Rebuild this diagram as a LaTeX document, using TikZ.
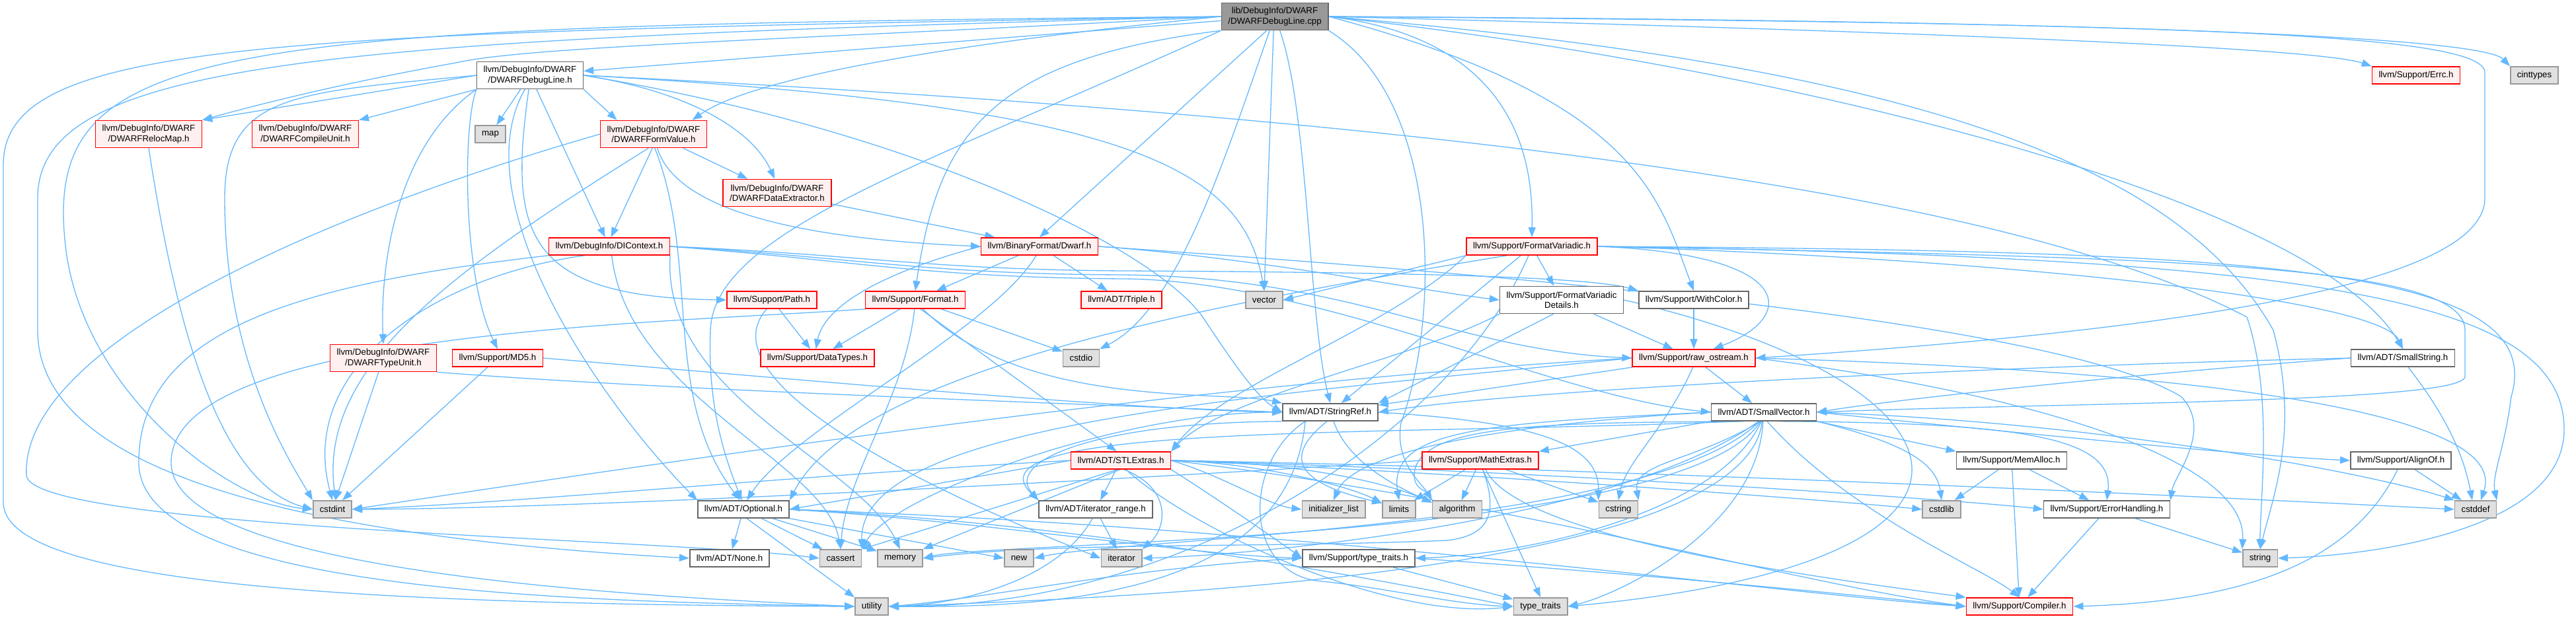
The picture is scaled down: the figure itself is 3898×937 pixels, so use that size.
\documentclass[tikz,border=0pt]{standalone}
\usepackage{fontspec}
\setmainfont{Liberation Sans}
\usetikzlibrary{arrows.meta,backgrounds}

\definecolor{depblue}{HTML}{63B8FF}
\definecolor{redfill}{HTML}{FFF0F0}
\definecolor{sysfill}{HTML}{E0E0E0}
\definecolor{sysgray}{HTML}{999999}
\definecolor{hdrgray}{HTML}{666666}

\begin{document}
\begin{tikzpicture}[>={Triangle[length=15pt,width=11pt]}, x=1pt, y=1pt,
    hdr/.style={draw=hdrgray, fill=white, line width=1.6pt, inner xsep=10pt, inner ysep=2pt,
        minimum height=26pt, align=center, font=\fontsize{13.3}{15.5}\selectfont},
    redhdr/.style={hdr, draw=red, fill=redfill},
    syshdr/.style={hdr, draw=sysgray, fill=sysfill},
    rootfile/.style={hdr, fill=sysgray},
    tall/.style={minimum height=41pt},
    dep/.style={->, draw=depblue, line width=1.3pt}]

    \useasboundingbox (0,0) rectangle (3898,-937);

    % Berkas dan header
    \node[rootfile, tall] (root) at (1929,-25) {lib/DebugInfo/DWARF\\/DWARFDebugLine.cpp};
    \node[hdr, tall] (dline) at (802,-114) {llvm/DebugInfo/DWARF\\/DWARFDebugLine.h};
    \node[redhdr] (errc) at (3656,-114) {llvm/Support/Errc.h};
    \node[syshdr] (cinttypes) at (3835,-114) {cinttypes};
    \node[redhdr, tall] (relocmap) at (225,-203) {llvm/DebugInfo/DWARF\\/DWARFRelocMap.h};
    \node[redhdr, tall] (compileunit) at (462,-203) {llvm/DebugInfo/DWARF\\/DWARFCompileUnit.h};
    \node[syshdr] (map) at (742,-203) {map};
    \node[redhdr, tall] (formvalue) at (989,-203) {llvm/DebugInfo/DWARF\\/DWARFFormValue.h};
    \node[redhdr, tall] (dataextr) at (1176,-292) {llvm/DebugInfo/DWARF\\/DWARFDataExtractor.h};
    \node[redhdr] (dicontext) at (922,-373) {llvm/DebugInfo/DIContext.h};
    \node[redhdr] (dwarf) at (1573,-373) {llvm/BinaryFormat/Dwarf.h};
    \node[redhdr] (fmtvar) at (2318,-373) {llvm/Support/FormatVariadic.h};
    \node[redhdr] (path) at (1168,-454) {llvm/Support/Path.h};
    \node[redhdr] (format) at (1385,-454) {llvm/Support/Format.h};
    \node[redhdr] (triple) at (1697,-454) {llvm/ADT/Triple.h};
    \node[syshdr] (vector) at (1913,-454) {vector};
    \node[hdr, tall] (fmtvardet) at (2363,-454) {llvm/Support/FormatVariadic\\Details.h};
    \node[hdr] (withcolor) at (2563,-454) {llvm/Support/WithColor.h};
    \node[redhdr, tall] (typeunit) at (580,-542) {llvm/DebugInfo/DWARF\\/DWARFTypeUnit.h};
    \node[redhdr] (md5) at (753,-542) {llvm/Support/MD5.h};
    \node[redhdr] (datatypes) at (1237,-542) {llvm/Support/DataTypes.h};
    \node[syshdr] (cstdio) at (1636,-542) {cstdio};
    \node[redhdr] (rawos) at (2563,-542) {llvm/Support/raw\_ostream.h};
    \node[hdr] (smallstr) at (3636,-542) {llvm/ADT/SmallString.h};
    \node[hdr] (stringref) at (2013,-624) {llvm/ADT/StringRef.h};
    \node[hdr] (smallvec) at (2669,-624) {llvm/ADT/SmallVector.h};
    \node[redhdr] (stlextras) at (1696,-697) {llvm/ADT/STLExtras.h};
    \node[redhdr] (mathext) at (2240,-697) {llvm/Support/MathExtras.h};
    \node[hdr] (memalloc) at (3044,-697) {llvm/Support/MemAlloc.h};
    \node[hdr] (alignof) at (3633,-697) {llvm/Support/AlignOf.h};
    \node[syshdr] (cstdint) at (503,-771) {cstdint};
    \node[hdr] (optional) at (1125,-771) {llvm/ADT/Optional.h};
    \node[hdr] (iterrange) at (1658,-771) {llvm/ADT/iterator\_range.h};
    \node[syshdr] (initlist) at (2018,-771) {initializer\_list};
    \node[syshdr] (limits) at (2117,-771) {limits};
    \node[syshdr] (algorithm) at (2205,-771) {algorithm};
    \node[syshdr] (cstring) at (2449,-771) {cstring};
    \node[syshdr] (cstdlib) at (2938,-771) {cstdlib};
    \node[hdr] (errhand) at (3188,-771) {llvm/Support/ErrorHandling.h};
    \node[syshdr] (cstddef) at (3746,-771) {cstddef};
    \node[hdr] (none) at (1104,-845) {llvm/ADT/None.h};
    \node[syshdr] (cassert) at (1272,-845) {cassert};
    \node[syshdr] (memory) at (1362,-845) {memory};
    \node[syshdr] (newh) at (1542,-845) {new};
    \node[syshdr] (iterator) at (1697,-845) {iterator};
    \node[hdr] (ttraitsh) at (2056,-845) {llvm/Support/type\_traits.h};
    \node[syshdr] (string) at (3420,-845) {string};
    \node[syshdr] (utility) at (1319,-918) {utility};
    \node[syshdr] (ttraits) at (2331,-918) {type\_traits};
    \node[redhdr] (compiler) at (3056,-918) {llvm/Support/Compiler.h};

    \begin{scope}[on background layer]
    % dari DWARFDebugLine.cpp
    \draw[dep] (root) -- (dline);
    \draw[dep] (root.west) .. controls (1200,-60) and (800,-70) .. (690,-95) .. controls (550,-120) and (420,-150) .. (relocmap.north east);
    \draw[dep] (root.west) .. controls (400,-50) and (5,-60) .. (5,-250) -- (5,-760) .. controls (5,-880) and (500,-915) .. (utility.west);
    \draw[dep] (root.west) .. controls (500,-60) and (57,-90) .. (57,-300) -- (57,-500) .. controls (57,-750) and (600,-820) .. (none.west);
    \draw[dep] (root.west) .. controls (300,-40) and (60,-60) .. (100,-380) .. controls (130,-600) and (350,-760) .. (cstdint.west);
    \draw[dep] (root.west) .. controls (1500,-60) and (1150,-110) .. (formvalue.20);
    \draw[dep] (root.south west) .. controls (1500,-90) and (1420,-200) .. (format.north);
    \draw[dep] (root.south west) .. controls (1400,-250) and (1080,-350) .. (1075,-500) .. controls (1070,-620) and (1100,-700) .. (optional.100);
    \draw[dep] (root.240) -- (dwarf.north);
    \draw[dep] (root.250) .. controls (1850,-250) and (1780,-470) .. (cstdio.north east);
    \draw[dep] (root.265) -- (vector.north);
    \draw[dep] (root.290) .. controls (1980,-170) and (1980,-480) .. (stringref.north);
    \draw[dep] (root.south east) .. controls (2180,-150) and (2180,-480) .. (2120,-640) .. controls (2110,-700) and (2150,-730) .. (algorithm.north west);
    \draw[dep] (root.east) .. controls (2300,-60) and (2320,-250) .. (fmtvar.north);
    \draw[dep] (root.east) .. controls (2480,-150) and (2510,-300) .. (withcolor.north);
    \draw[dep] (root.east) .. controls (3000,-30) and (3750,-50) .. (cinttypes.north west);
    \draw[dep] (root.east) .. controls (2800,-45) and (3500,-70) .. (errc.north west);
    \draw[dep] (root.east) .. controls (3300,-35) and (3760,-50) .. (3760,-110) -- (3760,-300) .. controls (3760,-430) and (3300,-500) .. (rawos.east);
    \draw[dep] (root.east) .. controls (2900,-100) and (3300,-250) .. (3440,-500) .. controls (3480,-650) and (3440,-750) .. (string.north);
    \draw[dep] (root.east) .. controls (2700,-100) and (3500,-300) .. (smallstr.north);

    % dari DWARFDebugLine.h
    \draw[dep] (dline.west) -- (relocmap.north east);
    \draw[dep] (dline.south west) -- (compileunit.north east);
    \draw[dep] (dline) -- (map);
    \draw[dep] (dline.south east) -- (formvalue.159);
    \draw[dep] (dline.east) .. controls (1050,-140) and (1140,-200) .. (dataextr.100);
    \draw[dep] (dline) -- (dicontext);
    \draw[dep] (dline.265) .. controls (770,-350) and (790,-450) .. (path.west);
    \draw[dep] (dline.south west) .. controls (600,-220) and (575,-400) .. (typeunit.north);
    \draw[dep] (dline.south west) .. controls (700,-190) and (700,-420) .. (md5.north);
    \draw[dep] (dline.west) .. controls (450,-140) and (340,-140) .. (340,-300) .. controls (340,-550) and (440,-700) .. (cstdint.north west);
    \draw[dep] (dline.250) .. controls (700,-300) and (900,-600) .. (optional.north west);
    \draw[dep] (dline.east) .. controls (1700,-160) and (1880,-250) .. (vector.north);
    \draw[dep] (dline.east) .. controls (1400,-200) and (1750,-380) .. (1820,-480) .. controls (1860,-540) and (1900,-600) .. (stringref.west);
    \draw[dep] (dline.east) .. controls (2000,-170) and (3000,-270) .. (3400,-480) .. controls (3440,-600) and (3420,-750) .. (string.north);

    % dari DWARFFormValue.h
    \draw[dep] (formvalue) -- (dataextr);
    \draw[dep] (formvalue.265) -- (dicontext.80);
    \draw[dep] (formvalue.285) .. controls (1030,-340) and (1300,-365) .. (dwarf.west);
    \draw[dep] (formvalue.275) .. controls (1060,-400) and (1000,-600) .. (optional.110);
    \draw[dep] (formvalue.250) .. controls (700,-400) and (480,-550) .. (cstdint.70);
    \draw[dep] (formvalue.west) .. controls (500,-320) and (30,-520) .. (40,-720) .. controls (50,-800) and (1000,-815) .. (cassert.west);
    \draw[dep] (dataextr) -- (dwarf);

    % dari DIContext.h
    \draw[dep] (dicontext.south west) .. controls (450,-430) and (210,-500) .. (210,-700) .. controls (210,-900) and (900,-910) .. (utility.west);
    \draw[dep] (dicontext.200) .. controls (650,-420) and (450,-560) .. (cstdint.north);
    \draw[dep] (dicontext.285) .. controls (950,-600) and (1250,-700) .. (cassert.north);
    \draw[dep] (dicontext.south east) .. controls (1000,-600) and (1300,-700) .. (memory.north);
    \draw[dep] (dicontext.east) .. controls (1300,-385) and (1400,-408) .. (1700,-410) .. controls (2100,-412) and (2400,-418) .. (withcolor.north west);
    \draw[dep] (dicontext.east) .. controls (1300,-390) and (1400,-415) .. (1700,-416) .. controls (2050,-420) and (2200,-530) .. (rawos.west);
    \draw[dep] (dicontext.east) .. controls (1300,-395) and (1400,-420) .. (1700,-422) .. controls (2000,-425) and (2350,-600) .. (smallvec.west);

    % dari Dwarf.h
    \draw[dep] (dwarf) -- (format);
    \draw[dep] (dwarf) -- (triple);
    \draw[dep] (dwarf.west) .. controls (1380,-400) and (1250,-450) .. (datatypes.100);
    \draw[dep] (dwarf.east) .. controls (1900,-390) and (2150,-440) .. (fmtvardet.west);
    \draw[dep] (dwarf.250) .. controls (1500,-500) and (1200,-650) .. (optional.70);
    \draw[dep] (dwarf.east) .. controls (2200,-410) and (3100,-480) .. (3300,-600) .. controls (3350,-650) and (3290,-720) .. (errhand.north east);

    % dari Path.h dan Format.h
    \draw[dep] (path) -- (datatypes);
    \draw[dep] (path.240) .. controls (1080,-560) and (1300,-700) .. (iterator.west);
    \draw[dep] (format) -- (datatypes);
    \draw[dep] (format) -- (cstdio);
    \draw[dep] (format.300) -- (stlextras.115);
    \draw[dep] (format.310) .. controls (1550,-620) and (1850,-590) .. (stringref.north west);
    \draw[dep] (format.265) .. controls (1370,-600) and (1280,-720) .. (cassert.north);
    \draw[dep] (format.south west) .. controls (1000,-490) and (259,-500) .. (259,-700) .. controls (259,-860) and (900,-900) .. (utility.west);

    % dari FormatVariadic.h
    \draw[dep] (fmtvar) -- (fmtvardet);
    \draw[dep] (fmtvar.south west) -- (vector.east);
    \draw[dep] (fmtvar.east) .. controls (2720,-385) and (2720,-480) .. (rawos.25);
    \draw[dep] (fmtvar) -- (stringref);
    \draw[dep] (fmtvar.south west) .. controls (2100,-500) and (1850,-580) .. (stlextras.north east);
    \draw[dep] (fmtvar.200) .. controls (1900,-450) and (1300,-550) .. (optional.north east);
    \draw[dep] (fmtvar.250) .. controls (2200,-650) and (1800,-920) .. (utility.east);
    \draw[dep] (fmtvar.east) .. controls (3000,-390) and (3600,-450) .. (smallstr.north);
    \draw[dep] (fmtvar.east) .. controls (3300,-390) and (3730,-400) .. (3730,-500) -- (3730,-570) .. controls (3730,-610) and (3100,-610) .. (smallvec.east);
    \draw[dep] (fmtvar.east) .. controls (3400,-380) and (3860,-400) .. (3800,-600) .. controls (3790,-680) and (3770,-720) .. (cstddef.north east);
    \draw[dep] (fmtvar.east) .. controls (3500,-390) and (3880,-450) .. (3880,-650) .. controls (3880,-800) and (3600,-840) .. (string.east);

    % dari FormatVariadicDetails.h, WithColor.h
    \draw[dep] (fmtvardet.240) -- (stringref.north east);
    \draw[dep] (fmtvardet) -- (rawos);
    \draw[dep] (fmtvardet.south west) .. controls (2150,-540) and (1850,-600) .. (stlextras.north east);
    \draw[dep] (fmtvardet.east) .. controls (3000,-580) and (3100,-850) .. (ttraits.east);
    \draw[dep] (withcolor) -- (rawos);

    % dari DWARFTypeUnit.h, MD5.h, DWARFRelocMap.h
    \draw[dep] (typeunit) -- (cstdint);
    \draw[dep] (typeunit.south east) .. controls (1000,-590) and (1600,-610) .. (stringref.west);
    \draw[dep] (md5) -- (cstdint);
    \draw[dep] (md5.east) .. controls (1100,-565) and (1700,-620) .. (stringref.west);
    \draw[dep] (relocmap.south) .. controls (260,-450) and (320,-730) .. (cstdint.west);

    % dari raw_ostream.h
    \draw[dep] (rawos) -- (stringref);
    \draw[dep] (rawos) -- (smallvec);
    \draw[dep] (rawos.265) .. controls (2520,-650) and (2460,-700) .. (cstring.north);
    \draw[dep] (rawos.west) .. controls (1800,-580) and (1000,-700) .. (cstdint.east);
    \draw[dep] (rawos.west) .. controls (1900,-600) and (1300,-640) .. (cassert.north east);
    \draw[dep] (rawos.east) .. controls (3300,-560) and (3800,-620) .. (cstddef.60);
    \draw[dep] (rawos.east) .. controls (3100,-600) and (3400,-700) .. (string.north west);

    % dari SmallString.h
    \draw[dep] (smallstr.west) .. controls (3000,-555) and (2300,-590) .. (stringref.east);
    \draw[dep] (smallstr.west) .. controls (3300,-560) and (2900,-600) .. (smallvec.east);
    \draw[dep] (smallstr.300) .. controls (3710,-640) and (3730,-700) .. (cstddef.110);

    % dari StringRef.h
    \draw[dep] (stringref.south west) .. controls (1650,-640) and (1520,-700) .. (iterrange.north west);
    \draw[dep] (stringref.290) .. controls (2040,-700) and (2110,-735) .. (algorithm.165);
    \draw[dep] (stringref.250) .. controls (1930,-700) and (1980,-735) .. (limits.160);
    \draw[dep] (stringref.east) .. controls (2350,-640) and (2420,-680) .. (cstring.north west);
    \draw[dep] (stringref.200) .. controls (1880,-700) and (1880,-870) .. (2000,-880) .. controls (2100,-890) and (2200,-915) .. (ttraits.west);
    \draw[dep] (stringref.200) .. controls (1950,-900) and (1600,-920) .. (utility.east);
    \draw[dep] (stringref.west) .. controls (1700,-620) and (1350,-750) .. (cassert.north east);

    % dari SmallVector.h
    \draw[dep] (smallvec.south west) -- (mathext.north east);
    \draw[dep] (smallvec.south east) -- (memalloc.north west);
    \draw[dep] (smallvec.east) .. controls (3000,-650) and (3400,-690) .. (alignof.west);
    \draw[dep] (smallvec.330) .. controls (3050,-640) and (3200,-660) .. (errhand.north);
    \draw[dep] (smallvec.south east) .. controls (2880,-670) and (2930,-700) .. (cstdlib.north);
    \draw[dep] (smallvec.200) .. controls (2100,-660) and (1450,-640) .. (iterrange.north west);
    \draw[dep] (smallvec.west) .. controls (2300,-640) and (2050,-680) .. (initlist.north);
    \draw[dep] (smallvec.west) .. controls (2250,-640) and (2100,-650) .. (limits.north);
    \draw[dep] (smallvec.205) .. controls (2350,-640) and (2140,-640) .. (2140,-720) .. controls (2140,-740) and (2160,-745) .. (algorithm.north west);
    \draw[dep] (smallvec.250) .. controls (2560,-700) and (2470,-700) .. (cstring.north east);
    \draw[dep] (smallvec.255) .. controls (2600,-780) and (2300,-840) .. (ttraitsh.east);
    \draw[dep] (smallvec.265) .. controls (2660,-800) and (2450,-900) .. (ttraits.east);
    \draw[dep] (smallvec.260) .. controls (2640,-870) and (1700,-905) .. (utility.east);
    \draw[dep] (smallvec.250) .. controls (2550,-820) and (1500,-820) .. (memory.east);
    \draw[dep] (smallvec.245) .. controls (2500,-800) and (1700,-815) .. (newh.east);
    \draw[dep] (smallvec.240) .. controls (2450,-790) and (1900,-840) .. (iterator.east);
    \draw[dep] (smallvec.east) .. controls (3200,-640) and (3600,-720) .. (cstddef.north west);
    \draw[dep] (smallvec.290) .. controls (2800,-780) and (3000,-860) .. (compiler.north);

    % dari STLExtras.h
    \draw[dep] (stlextras.west) -- (optional.east);
    \draw[dep] (stlextras) -- (iterrange);
    \draw[dep] (stlextras.290) .. controls (1775,-740) and (1765,-800) .. (iterator.north east);
    \draw[dep] (stlextras.250) -- (cassert.north east);
    \draw[dep] (stlextras.265) -- (memory.north east);
    \draw[dep] (stlextras.west) .. controls (1200,-720) and (800,-760) .. (cstdint.east);
    \draw[dep] (stlextras.east) .. controls (1850,-720) and (1920,-765) .. (initlist.west);
    \draw[dep] (stlextras.east) .. controls (1900,-700) and (2040,-735) .. (limits.160);
    \draw[dep] (stlextras.east) .. controls (2000,-700) and (2120,-740) .. (algorithm.165);
    \draw[dep] (stlextras.east) .. controls (2300,-720) and (2800,-760) .. (cstdlib.west);
    \draw[dep] (stlextras.east) .. controls (2400,-715) and (3000,-760) .. (errhand.west);
    \draw[dep] (stlextras.east) .. controls (2500,-710) and (3500,-760) .. (cstddef.west);
    \draw[dep] (stlextras.south east) .. controls (1850,-760) and (1950,-830) .. (ttraitsh.west);
    \draw[dep] (stlextras.300) .. controls (1800,-800) and (2100,-940) .. (ttraits.west);
    \draw[dep] (stlextras.east) .. controls (2300,-760) and (2700,-880) .. (compiler.west);

    % dari MathExtras.h
    \draw[dep] (mathext) -- (limits);
    \draw[dep] (mathext) -- (algorithm);
    \draw[dep] (mathext) -- (cstring);
    \draw[dep] (mathext.285) -- (ttraits.north);
    \draw[dep] (mathext.300) .. controls (2300,-820) and (2800,-880) .. (compiler.north west);
    \draw[dep] (mathext.west) .. controls (1800,-720) and (900,-770) .. (cstdint.east);
    \draw[dep] (mathext.285) .. controls (2265,-770) and (2260,-810) .. (2190,-818) .. controls (1900,-830) and (1600,-820) .. (memory.east);

    % dari MemAlloc.h, AlignOf.h, ErrorHandling.h
    \draw[dep] (memalloc) -- (cstdlib);
    \draw[dep] (memalloc) -- (errhand);
    \draw[dep] (memalloc) -- (compiler);
    \draw[dep] (alignof) -- (cstddef);
    \draw[dep] (alignof.250) .. controls (3560,-850) and (3400,-910) .. (compiler.east);
    \draw[dep] (errhand) -- (compiler);
    \draw[dep] (errhand) -- (string);

    % dari Optional.h, iterator_range.h, type_traits.h
    \draw[dep] (optional) -- (none);
    \draw[dep] (optional) -- (cassert);
    \draw[dep] (optional) -- (memory);
    \draw[dep] (optional.south east) -- (newh.west);
    \draw[dep] (optional.290) -- (utility.north west);
    \draw[dep] (optional.east) .. controls (1500,-790) and (1800,-840) .. (ttraitsh.west);
    \draw[dep] (optional.east) .. controls (1600,-790) and (2000,-860) .. (ttraits.west);
    \draw[dep] (optional.east) .. controls (2000,-800) and (2700,-900) .. (compiler.west);
    \draw[dep] (iterrange) -- (iterator);
    \draw[dep] (iterrange.250) .. controls (1600,-880) and (1450,-915) .. (utility.east);
    \draw[dep] (ttraitsh) -- (ttraits);
    \draw[dep] (ttraitsh.west) .. controls (1700,-860) and (1500,-905) .. (utility.east);
    \draw[dep] (ttraitsh.east) .. controls (2500,-870) and (2800,-900) .. (compiler.west);
    \end{scope}

\end{tikzpicture}
\end{document}
